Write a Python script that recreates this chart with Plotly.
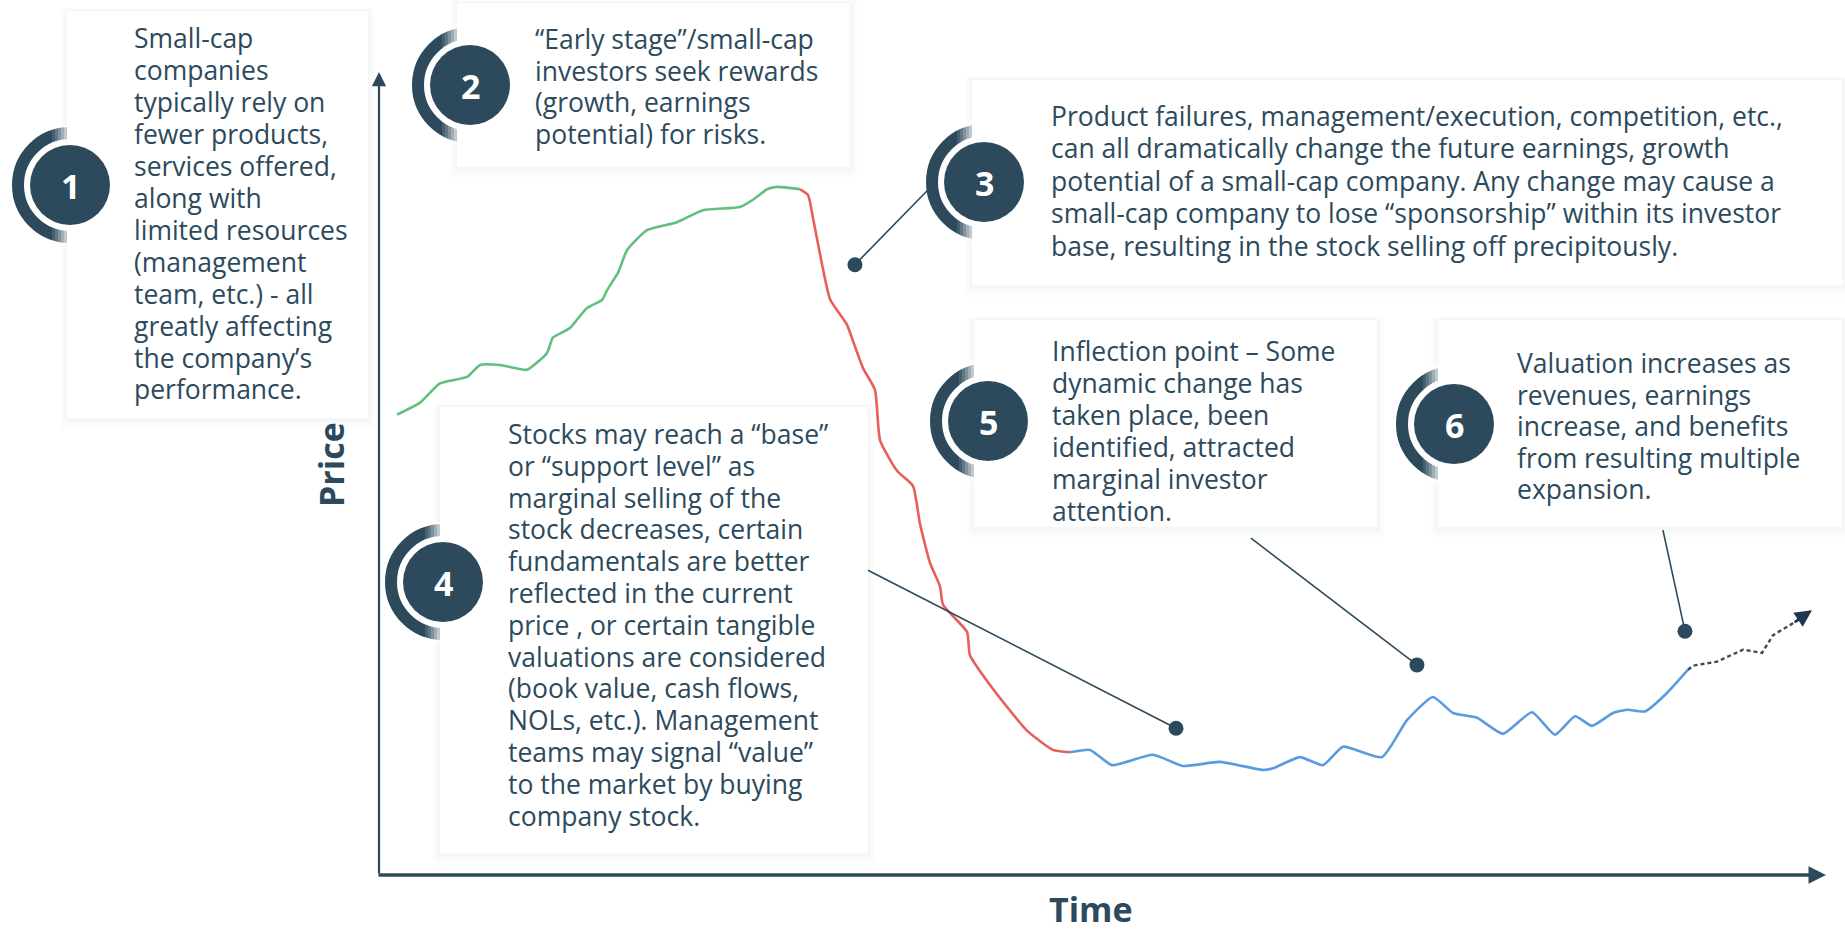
import plotly.graph_objects as go

W, H = 1845, 933

# ---------------- data (time %, price %) ----------------
green_t = [1.25, 2.85, 4.23, 6.11, 7.01, 8.40, 10.27, 11.66, 12.07, 13.25, 14.43, 15.48, 15.82, 16.59,
           17.21, 18.60, 20.68, 22.48, 25.05, 25.95, 26.93, 27.62, 29.22]
green_p = [57.4, 58.9, 61.3, 62.1, 63.6, 63.6, 63.0, 65.1, 67.0, 68.2, 70.7, 71.7, 72.9, 75.1,
           77.9, 80.4, 81.4, 82.9, 83.3, 84.2, 85.5, 85.8, 85.5]
red_t = [29.22, 29.77, 30.12, 30.74, 31.30, 32.48, 32.89, 33.59, 34.42, 34.77, 35.95, 37.06, 37.54,
         38.24, 38.93, 39.14, 40.81, 41.01, 42.61, 44.97, 46.77, 47.95]
red_p = [85.5, 84.8, 81.9, 76.2, 71.8, 68.6, 66.6, 63.2, 60.5, 54.2, 50.4, 48.5, 43.8,
         38.9, 36.0, 33.7, 30.3, 27.4, 23.2, 18.0, 15.6, 15.3]
blue_t = [47.95, 49.34, 50.87, 53.71, 55.79, 58.36, 61.35, 62.04, 63.91, 65.51, 66.90, 69.60, 71.34,
          73.14, 74.53, 76.20, 78.00, 80.01, 81.61, 83.00, 84.18, 85.64, 86.61, 87.86, 89.38, 90.84]
blue_p = [15.3, 15.6, 13.7, 15.0, 13.6, 14.1, 13.1, 13.3, 14.7, 13.7, 16.0, 14.7, 19.3,
          22.2, 20.2, 19.6, 17.6, 20.3, 17.5, 19.8, 18.6, 20.2, 20.6, 20.4, 22.7, 25.6]
proj_t = [90.84, 91.19, 92.85, 94.66, 95.98, 96.74, 98.13, 99.44]
proj_p = [25.6, 26.1, 26.6, 28.1, 27.7, 29.9, 31.4, 33.0]

# callout dots on chart (time, price) and leader-line starts
dot_t = [33.03, 55.31, 72.03, 90.63]
dot_p = [76.1, 18.3, 26.2, 30.4]
lead_t = [38.24, 33.93, 60.51, 89.10]
lead_p = [85.7, 38.0, 42.0, 43.0]

numbers = ["1", "2", "3", "4", "5", "6"]
text_lines = [
    ["Small-cap", "companies", "typically rely on", "fewer products,", "services offered,", "along with",
     "limited resources", "(management", "team, etc.) - all", "greatly affecting", "the company’s",
     "performance."],
    ["“Early stage”/small-cap", "investors seek rewards", "(growth, earnings", "potential) for risks."],
    ["Product failures, management/execution, competition, etc.,",
     "can all dramatically change the future earnings, growth",
     "potential of a small-cap company. Any change may cause a",
     "small-cap company to lose “sponsorship” within its investor",
     "base, resulting in the stock selling off precipitously."],
    ["Stocks may reach a “base”", "or “support level” as", "marginal selling of the", "stock decreases, certain",
     "fundamentals are better", "reflected in the current", "price , or certain tangible",
     "valuations are considered", "(book value, cash flows,", "NOLs, etc.). Management",
     "teams may signal “value”", "to the market by buying", "company stock."],
    ["Inflection point – Some", "dynamic change has", "taken place, been", "identified, attracted",
     "marginal investor", "attention."],
    ["Valuation increases as", "revenues, earnings", "increase, and benefits", "from resulting multiple",
     "expansion."],
]

# ---------------- layout geometry (pixels) ----------------
boxes = [(67, 11, 368, 418), (457, 3, 850, 167), (972, 80, 1842, 285),
         (440, 407, 868, 853), (974, 320, 1377, 527), (1438, 320, 1842, 527)]
circles = [(70, 185), (470, 85), (984, 182), (443, 582), (988, 421), (1454, 424)]
# text left x, first baseline y, line spacing
text_pos = [(133, 47, 31.95), (534, 48, 31.7), (1050, 125, 32.4), (507, 443, 31.8), (1051, 360, 32.0),
            (1516, 372, 31.5)]
FS = 26.5

DARK = "#2c4a5c"


def fx(x):
    return x / W


def fy(y):
    return 1 - y / H


fig = go.Figure()

fig.add_trace(go.Scatter(x=green_t, y=green_p, mode="lines",
                         line=dict(color="#62bf7d", width=2.6, shape="spline", smoothing=0.5), hoverinfo="skip"))
fig.add_trace(go.Scatter(x=red_t, y=red_p, mode="lines",
                         line=dict(color="#e65f5a", width=2.6, shape="spline", smoothing=0.5), hoverinfo="skip"))
fig.add_trace(go.Scatter(x=blue_t, y=blue_p, mode="lines",
                         line=dict(color="#5a9ae0", width=2.6, shape="spline", smoothing=0.5), hoverinfo="skip"))
fig.add_trace(go.Scatter(x=proj_t, y=proj_p, mode="lines",
                         line=dict(color="#3f4a57", width=2.4, dash="4px,3px"), hoverinfo="skip"))

for i in range(len(dot_t)):
    fig.add_trace(go.Scatter(x=[lead_t[i], dot_t[i]], y=[lead_p[i], dot_p[i]], mode="lines",
                             line=dict(color=DARK, width=1.6), hoverinfo="skip"))
fig.add_trace(go.Scatter(x=dot_t, y=dot_p, mode="markers",
                         marker=dict(color=DARK, size=15), hoverinfo="skip"))

shapes = []
# soft shadows
for (x0, y0, x1, y1) in boxes:
    for e, a in [(12, 0.012), (8, 0.015), (4, 0.02)]:
        shapes.append(dict(type="rect", xref="paper", yref="paper",
                           x0=fx(x0 - e * 0.6), x1=fx(x1 + e * 0.6), y0=fy(y0 - e * 0.3), y1=fy(y1 + e),
                           line=dict(width=0), fillcolor=f"rgba(40,50,60,{a})", layer="above"))
# rings
for (cx, cy) in circles:
    r = 52
    shapes.append(dict(type="circle", xref="paper", yref="paper",
                       x0=fx(cx - r), x1=fx(cx + r), y0=fy(cy + r), y1=fy(cy - r),
                       line=dict(color=DARK, width=12), fillcolor="rgba(0,0,0,0)", layer="above"))
# fading of ring ends near box edge
for (cx, cy), (bx0, by0, bx1, by1) in zip(circles, boxes):
    for j, a in enumerate([0.12, 0.25, 0.4, 0.55, 0.7]):
        shapes.append(dict(type="rect", xref="paper", yref="paper",
                           x0=fx(bx0 - 15 + j * 3), x1=fx(bx0 - 12 + j * 3), y0=fy(cy + 60), y1=fy(cy - 60),
                           line=dict(width=0), fillcolor=f"rgba(255,255,255,{a})", layer="above"))
# boxes
for (x0, y0, x1, y1) in boxes:
    shapes.append(dict(type="rect", xref="paper", yref="paper",
                       x0=fx(x0), x1=fx(x1), y0=fy(y1), y1=fy(y0),
                       line=dict(width=0), fillcolor="white", layer="above"))
# number disks
for (cx, cy) in circles:
    r = 40
    shapes.append(dict(type="circle", xref="paper", yref="paper",
                       x0=fx(cx - r), x1=fx(cx + r), y0=fy(cy + r), y1=fy(cy - r),
                       line=dict(width=0), fillcolor=DARK, layer="above"))

annotations = []
for (cx, cy), n in zip(circles, numbers):
    annotations.append(dict(x=fx(cx), y=fy(cy + 1), xref="paper", yref="paper", text=f"<b>{n}</b>",
                            showarrow=False, xanchor="center", yanchor="middle",
                            font=dict(family="Open Sans", size=34, color="white")))
for (tx, b0, sp), lines in zip(text_pos, text_lines):
    body = "<br>".join(f'<span style="font-size:{FS}px">{ln}</span>' for ln in lines)
    annotations.append(dict(x=fx(tx), y=fy(b0 - 1.069 * FS), xref="paper", yref="paper", text=body,
                            align="left", showarrow=False, xanchor="left", yanchor="top", borderpad=0,
                            font=dict(family="Open Sans", size=sp / 1.3, color=DARK)))

annotations.append(dict(x=fx(379), y=fy(72), xref="paper", yref="paper", ax=0, ay=803,
                        showarrow=True, arrowhead=2, arrowsize=1.3, arrowwidth=2.2, arrowcolor=DARK, text=""))
annotations.append(dict(x=fx(1826), y=fy(875), xref="paper", yref="paper", ax=-1449, ay=0,
                        showarrow=True, arrowhead=2, arrowsize=1.0, arrowwidth=3.5, arrowcolor=DARK, text=""))
annotations.append(dict(x=proj_t[-1], y=proj_p[-1], ax=proj_t[-2], ay=proj_p[-2], xref="x", yref="y",
                        axref="x", ayref="y", showarrow=True, arrowhead=2, arrowsize=1.4, arrowwidth=2.4,
                        arrowcolor="#1f3550", text=""))
annotations.append(dict(x=fx(331), y=fy(465), xref="paper", yref="paper", text="<b>Price</b>", textangle=-90,
                        showarrow=False, xanchor="center", yanchor="middle",
                        font=dict(family="Open Sans", size=34, color=DARK)))
annotations.append(dict(x=fx(1091), y=fy(909), xref="paper", yref="paper", text="<b>Time</b>",
                        showarrow=False, xanchor="center", yanchor="middle",
                        font=dict(family="Open Sans", size=34, color=DARK)))

fig.update_layout(
    width=W, height=H, margin=dict(l=0, r=0, t=0, b=0),
    paper_bgcolor="white", plot_bgcolor="rgba(0,0,0,0)", showlegend=False,
    xaxis=dict(domain=[379 / W, 1820 / W], range=[0, 100], visible=False, fixedrange=True),
    yaxis=dict(domain=[1 - 875 / H, 1 - 73 / H], range=[0, 100], visible=False, fixedrange=True),
    shapes=shapes, annotations=annotations,
)

fig.write_html("out.html", config={"displayModeBar": False},
               post_script="document.body.style.margin='0';document.body.style.overflow='hidden';")
